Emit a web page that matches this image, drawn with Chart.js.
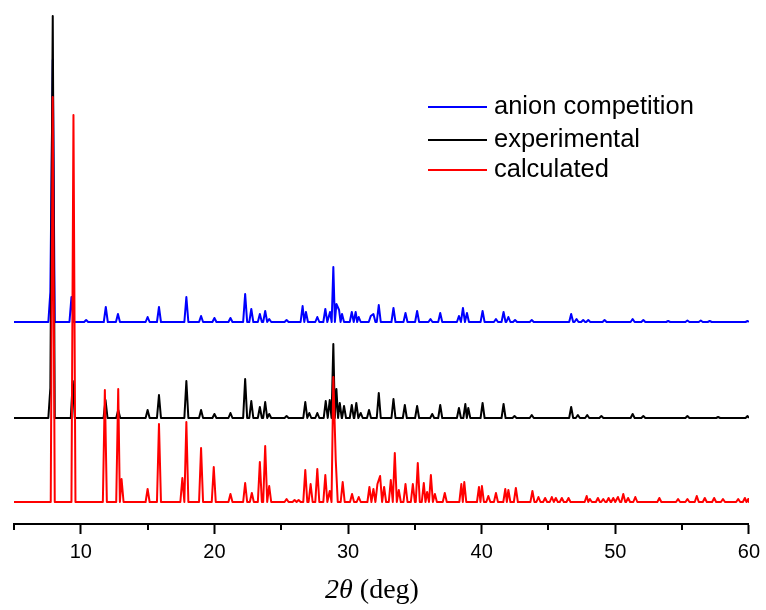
<!DOCTYPE html>
<html>
<head>
<meta charset="utf-8">
<script src="https://cdn.jsdelivr.net/npm/chart.js@4/dist/chart.umd.min.js"></script>
<style>
  html, body { margin: 0; padding: 0; background: #fff; }
  #wrap { width: 766px; height: 610px; }
</style>
</head>
<body>
<div id="wrap"><canvas id="xrd" width="766" height="610"></canvas></div>
<script>
// peak positions (2theta, deg) and heights
const anionPos = [7.72, 7.9, 9.3, 10.4, 11.87, 12.78, 15.0, 15.85, 17.9, 19.0, 20.0, 21.2, 22.3, 22.76, 23.4, 23.8, 24.1, 25.4,
  26.6, 26.85, 27.7, 28.3, 28.65, 28.9, 29.13, 29.33, 29.55, 30.28, 30.57, 30.8, 31.7, 31.9, 32.3, 33.4, 34.3, 35.17, 36.17,
  36.9, 38.3, 38.6, 38.9, 40.07, 41.07, 41.64, 42.0, 42.5, 43.75, 46.7, 47.1, 47.6, 47.98, 49.2, 51.3, 52.1, 53.96, 55.4,
  56.4, 57.07, 59.9];
const anionInt = [30, 262, 25, 2, 15, 8, 5, 15, 25, 6, 4, 4, 28, 13, 8, 11, 3, 2,
  16, 10, 5, 13, 10, 55, 18, 12, 8, 10, 10, 5, 6, 8, 17, 14, 9, 11, 3,
  9, 6, 14, 9, 11, 3, 10, 5, 2, 2, 8, 3, 2, 2, 2, 3, 2, 1, 1.5,
  1.5, 1, 1];

const expPos = [7.72, 7.9, 9.4, 11.85, 12.8, 15.0, 15.85, 17.9, 19.0, 20.0, 21.2, 22.3, 22.76, 23.4, 23.8, 24.1, 25.4,
  26.8, 27.1, 27.7, 28.33, 28.63, 28.9, 29.13, 29.38, 29.7, 30.28, 30.62, 30.95, 31.57, 32.3, 33.4, 34.25, 35.17, 36.3,
  36.9, 38.3, 38.78, 39.0, 40.07, 41.64, 42.46, 43.75, 46.7, 47.2, 47.9, 48.96, 51.3, 52.1, 55.4, 57.7, 59.9];
const expInt = [30, 402, 37, 18, 8, 8, 23, 37, 8, 4, 5, 39, 17, 11, 16, 4, 2,
  16, 5, 5, 17, 18, 74, 29, 15, 12, 13, 15, 5, 8, 25, 19, 13, 12, 4,
  13, 10, 14, 10, 15, 14, 2, 3, 11, 3, 3, 2, 4, 2, 2, 1, 2];

const calcPos = [7.9, 9.45, 11.8, 12.8, 13.05, 15.0, 15.85, 17.6, 17.9, 19.0, 19.95, 21.2, 22.3, 22.8, 23.4, 23.8, 24.1,
  25.4, 26.0, 26.3, 26.8, 27.2, 27.7, 28.3, 28.63, 28.9, 29.08, 29.6, 30.3, 30.8, 31.6, 31.9, 32.2, 32.4, 32.7, 33.2,
  33.5, 33.8, 34.3, 34.85, 35.22, 35.67, 35.92, 36.2, 36.5, 37.24, 38.48, 38.7, 39.8, 40.02, 40.5, 41.07, 41.77, 42.0,
  42.56, 43.8, 44.25, 44.75, 45.25, 45.55, 46.0, 46.5, 47.86, 48.1, 48.7, 49.1, 49.5, 49.85, 50.2, 50.6, 50.96, 51.5,
  53.3, 54.7, 55.4, 56.1, 56.7, 57.4, 58.06, 59.2, 59.7, 59.95];
const calcInt = [405, 387, 112, 113, 23, 13, 78, 24, 80, 54, 35, 8, 19, 9, 40, 56, 16,
  3, 2, 2, 32, 18, 33, 27, 11, 125, 42, 20, 8, 5, 15, 13, 18, 26, 15, 22,
  49, 12, 18, 18, 39, 19, 10, 27, 8, 9, 18, 20, 15, 16, 6, 9, 13, 12,
  14, 11, 5, 4, 5, 4, 4, 4, 6, 3, 4, 3, 4, 4, 5, 8, 4, 5,
  4, 3, 3, 6, 4, 4, 3, 3, 4, 3];

// vertical stacking offsets of the three patterns
const anionOffset = 202;
const expOffset = 106;
const calcOffset = 22;

const xTicks = [10, 20, 30, 40, 50, 60];
const seriesLabels = ['anion competition', 'experimental', 'calculated'];
const seriesColors = ['#0000ff', '#000000', '#ff0000'];

const HALF_WIDTH = 0.15;

function buildPattern(pos, amp, base) {
  const pts = [{ x: 5, y: base }];
  pos.forEach((p, i) => {
    const prev = pos[i - 1];
    const next = pos[i + 1];
    if (prev === undefined) {
      pts.push({ x: p - HALF_WIDTH, y: base });
    } else if (p - prev > 0.2) {
      pts.push({ x: Math.max(p - HALF_WIDTH, (p + prev) / 2), y: base });
    }
    pts.push({ x: p, y: base + amp[i] });
    if (next === undefined) {
      pts.push({ x: Math.min(p + HALF_WIDTH, 60), y: base });
    } else if (next - p > 0.2) {
      pts.push({ x: Math.min(p + HALF_WIDTH, (p + next) / 2), y: base });
    }
  });
  pts.push({ x: 60, y: base });
  return pts;
}

const legendInside = {
  id: 'legendInside',
  afterDraw(chart) {
    const ctx = chart.ctx;
    const rows = [107, 140, 170];
    ctx.save();
    ctx.font = '25.5px "Liberation Sans", Arial, sans-serif';
    ctx.textBaseline = 'middle';
    ctx.lineWidth = 2;
    seriesLabels.forEach((label, i) => {
      ctx.strokeStyle = seriesColors[i];
      ctx.beginPath();
      ctx.moveTo(428, rows[i]);
      ctx.lineTo(487, rows[i]);
      ctx.stroke();
      ctx.fillStyle = '#000';
      ctx.fillText(label, 494, rows[i]);
    });
    ctx.restore();
  }
};

const axisExtras = {
  id: 'axisExtras',
  afterDraw(chart) {
    const ctx = chart.ctx;
    const xs = chart.scales.x;
    const bottom = chart.chartArea.bottom;
    ctx.save();
    // minor ticks
    ctx.strokeStyle = '#000';
    ctx.lineWidth = 2;
    [5, 15, 25, 35, 45, 55].forEach((v) => {
      const px = Math.round(xs.getPixelForValue(v));
      ctx.beginPath();
      ctx.moveTo(px, bottom);
      ctx.lineTo(px, bottom + 6);
      ctx.stroke();
    });
    // axis title: 2θ (deg)
    ctx.fillStyle = '#000';
    ctx.textBaseline = 'alphabetic';
    const italic = 'italic 28px "Liberation Serif", "Times New Roman", serif';
    const upright = '28px "Liberation Serif", "Times New Roman", serif';
    ctx.font = italic;
    const w1 = ctx.measureText('2\u03B8').width;
    ctx.font = upright;
    const w2 = ctx.measureText(' (deg)').width;
    const start = 372 - (w1 + w2) / 2;
    ctx.font = italic;
    ctx.fillText('2\u03B8', start, 598);
    ctx.font = upright;
    ctx.fillText(' (deg)', start + w1, 598);
    ctx.restore();
  }
};

new Chart(document.getElementById('xrd'), {
  type: 'line',
  data: {
    datasets: [
      { label: seriesLabels[0], data: buildPattern(anionPos, anionInt, anionOffset), borderColor: seriesColors[0], order: 3 },
      { label: seriesLabels[1], data: buildPattern(expPos, expInt, expOffset), borderColor: seriesColors[1], order: 2 },
      { label: seriesLabels[2], data: buildPattern(calcPos, calcInt, calcOffset), borderColor: seriesColors[2], order: 1 }
    ]
  },
  options: {
    responsive: false,
    animation: false,
    parsing: false,
    elements: {
      line: { borderWidth: 2, tension: 0, fill: false, borderJoinStyle: 'round' },
      point: { radius: 0 }
    },
    layout: { padding: { top: 14, left: 14, right: 14, bottom: 40 } },
    plugins: { legend: { display: false }, tooltip: { enabled: false } },
    scales: {
      x: {
        type: 'linear',
        min: 5,
        max: 60,
        afterBuildTicks(scale) {
          scale.ticks = xTicks.map((v) => ({ value: v }));
        },
        ticks: {
          color: '#000',
          padding: 6,
          maxRotation: 0,
          font: { family: '"Liberation Sans", Arial, sans-serif', size: 20 }
        },
        grid: {
          display: true,
          drawOnChartArea: false,
          drawTicks: true,
          tickLength: 10,
          tickWidth: 2,
          tickColor: '#000'
        },
        border: { display: true, color: '#000', width: 2 }
      },
      y: {
        display: false,
        min: 0,
        max: 510
      }
    }
  },
  plugins: [legendInside, axisExtras]
});
</script>
</body>
</html>
